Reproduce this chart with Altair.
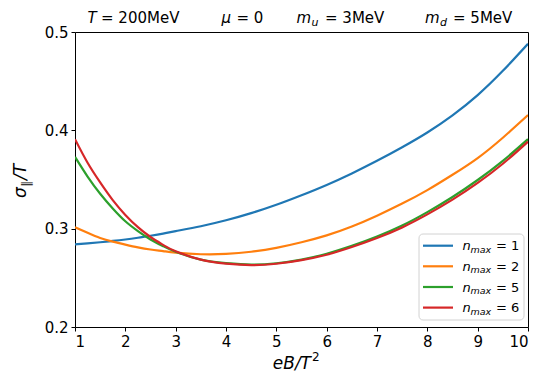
import altair as alt
import pandas as pd

# ---- data ----
eB = [1, 1.25, 1.5, 1.75, 2, 2.25, 2.5, 2.75, 3, 3.5, 4, 4.5, 5, 5.5, 6, 6.5, 7, 7.5, 8, 8.5, 9, 9.5, 10]
n1 = [0.284, 0.285, 0.2862, 0.2875, 0.289, 0.2908, 0.2928, 0.295, 0.2975, 0.3025, 0.3085, 0.3158, 0.3243, 0.334,
      0.3445, 0.3562, 0.369, 0.3828, 0.3978, 0.4152, 0.4358, 0.4605, 0.488]
n2 = [0.3015, 0.2958, 0.2905, 0.2868, 0.2838, 0.281, 0.2788, 0.2772, 0.2757, 0.274, 0.2743, 0.2765, 0.2805, 0.2862,
      0.2932, 0.3022, 0.3132, 0.3255, 0.3392, 0.3548, 0.3718, 0.3925, 0.4155]
n5 = [0.373, 0.353, 0.3355, 0.3205, 0.3075, 0.2975, 0.289, 0.2822, 0.2765, 0.2685, 0.265, 0.2635, 0.2648, 0.2685,
      0.2745, 0.2825, 0.292, 0.3032, 0.3168, 0.3322, 0.3495, 0.369, 0.391]
n6 = [0.391, 0.367, 0.347, 0.329, 0.314, 0.3015, 0.2915, 0.2835, 0.277, 0.2685, 0.2645, 0.263, 0.2643, 0.268,
      0.2735, 0.2813, 0.2905, 0.3013, 0.3145, 0.3295, 0.3465, 0.366, 0.3885]
nmax_values = [1, 2, 5, 6]
colors = ["#1f77b4", "#ff7f0e", "#2ca02c", "#d62728"]
x_ticks = [1, 2, 3, 4, 5, 6, 7, 8, 9, 10]
y_ticks = [0.2, 0.3, 0.4, 0.5]

series = [n1, n2, n5, n6]
rows = []
for nm, vals in zip(nmax_values, series):
    for xv, yv in zip(eB, vals):
        rows.append({"eB": xv, "sigma": yv, "nmax": str(nm)})
df = pd.DataFrame(rows)

W, H = 453, 295
FONT = "DejaVu Sans"

lines = alt.Chart(df).mark_line(strokeWidth=2.2, interpolate="natural", clip=True).encode(
    x=alt.X("eB:Q", scale=alt.Scale(domain=[1, 10], nice=False, zero=False),
            axis=alt.Axis(values=x_ticks, title=None, format="d")),
    y=alt.Y("sigma:Q", scale=alt.Scale(domain=[0.2, 0.5], nice=False, zero=False),
            axis=alt.Axis(values=y_ticks, title=None, format=".1f")),
    color=alt.Color("nmax:N", scale=alt.Scale(domain=[str(n) for n in nmax_values], range=colors), legend=None),
    order=alt.Order("eB:Q"),
)


def txt(s, x, y, size, style="normal", align="left", baseline="alphabetic", angle=0):
    return alt.Chart(pd.DataFrame({"t": [s]})).mark_text(
        text=s, font=FONT, fontSize=size, fontStyle=style, align=align, baseline=baseline,
        angle=angle, color="black"
    ).encode(x=alt.value(x), y=alt.value(y))


layers = [lines]

# top annotation (plot coords: page px - (75, 32))
ty = -9.5
layers += [
    txt("T", 12.5, ty, 15, "italic"),
    txt("= 200MeV", 26, ty, 15),
    txt("μ", 146.5, ty, 15, "italic"),
    txt("= 0", 161.5, ty, 15),
    txt("m", 221.5, ty, 15, "italic"),
    txt("u", 236.5, ty + 3, 11, "italic"),
    txt("= 3MeV", 250, ty, 15),
    txt("m", 350, ty, 15, "italic"),
    txt("d", 365, ty + 3, 11, "italic"),
    txt("= 5MeV", 378, ty, 15),
]

# axis titles
layers += [
    txt("eB/T", 236, 337, 17, "italic", align="right"),
    txt("2", 237, 329, 12),
    txt("σ", -49, 166, 17, "italic", align="left", angle=270),
    txt("∥", -45, 155, 12, "italic", align="left", angle=270),
    txt("/T", -49, 148, 17, "italic", align="left", angle=270),
]

# legend
lx0, lx1, ly0, ly1 = 344, 449, 202, 288
layers.append(
    alt.Chart(pd.DataFrame({"a": [0]})).mark_rect(
        fill="white", stroke="#cccccc", strokeWidth=1, cornerRadius=4, opacity=0.85
    ).encode(x=alt.value(lx0), x2=alt.value(lx1), y=alt.value(ly0), y2=alt.value(ly1))
)
row_y = [213.7, 234.3, 255.0, 275.6]
for nm, c, ry in zip(nmax_values, colors, row_y):
    layers.append(
        alt.Chart(pd.DataFrame({"a": [0]})).mark_rule(stroke=c, strokeWidth=2.2).encode(
            x=alt.value(348), x2=alt.value(378), y=alt.value(ry))
    )
    layers += [
        txt("n", 387.5, ry + 4.5, 13, "italic"),
        txt("max", 395.5, ry + 7, 9.5, "italic"),
        txt("= " + str(nm), 421, ry + 4.5, 13),
    ]

chart = alt.layer(*layers).properties(
    width=W, height=H,
    autosize=alt.AutoSizeParams(type="none"),
    padding={"left": 67, "top": 24, "right": 3, "bottom": 46},
).configure_view(
    stroke="black", strokeWidth=1
).configure_axis(
    domain=False, grid=False, ticks=True, tickColor="black", tickSize=4, tickWidth=1,
    labelFont=FONT, labelFontSize=15, labelColor="black", labelPadding=3,
)

chart.save("out.html", embed_options={"renderer": "svg", "actions": False})
